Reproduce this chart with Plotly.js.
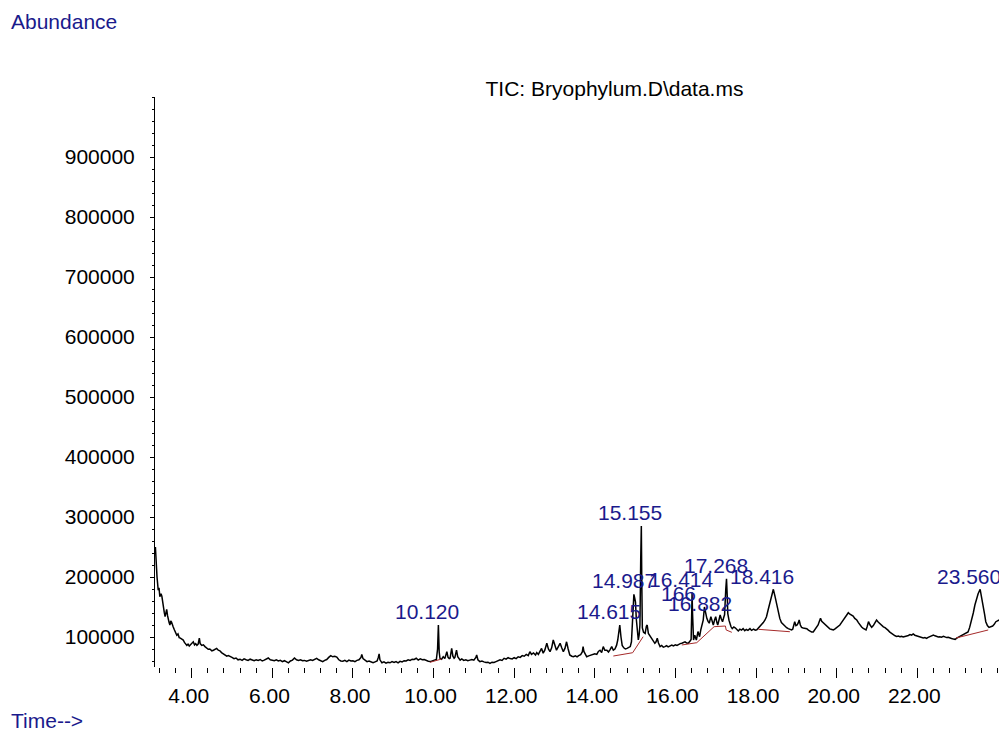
<!DOCTYPE html>
<html><head><meta charset="utf-8">
<script src="https://cdn.plot.ly/plotly-3.0.1.min.js"></script>
<style>html,body{margin:0;padding:0;background:#fff}#chart{width:999px;height:732px}</style>
</head><body><div id="chart"></div>
<script>
// TIC trace, [retention time (min), abundance]
const segDecay = [[3.10,250000],[3.12,215000],[3.14,200000],[3.17,178000],[3.19,182000],[3.21,167000],[3.24,172000],[3.26,168000],[3.28,156000],[3.30,150000],[3.32,141000],[3.34,134000],[3.36,140000],[3.38,146000],[3.40,136000],[3.42,128000],[3.44,124000],[3.46,120000],[3.48,127000],[3.50,125000],[3.52,119000],[3.54,117000],[3.57,112000],[3.60,108000],[3.63,103000],[3.66,105000],[3.69,99000],[3.72,98000],[3.75,96000],[3.79,95000],[3.82,91000],[3.85,89000],[3.88,86000],[3.91,88000],[3.94,85000],[3.97,87000],[4.00,89000],[4.04,92000],[4.07,87000],[4.10,89000],[4.13,86000],[4.16,88000],[4.19,98000],[4.21,89000],[4.25,86000],[4.29,87000],[4.33,84000],[4.37,82000],[4.41,79500],[4.45,80000],[4.50,77000],[4.54,78000],[4.58,80000],[4.62,81000],[4.66,78000],[4.70,77000],[4.74,74000],[4.78,72000],[4.82,70000],[4.87,68000],[4.91,69000],[4.95,67000]];
const segFlat = [[5.00,66000],[5.05,64000],[5.10,65000],[5.15,62000],[5.20,63000],[5.25,61000],[5.30,63500],[5.35,62000],[5.40,61000],[5.45,63000],[5.50,61500],[5.55,60500],[5.60,62000],[5.65,61000],[5.70,62500],[5.75,60000],[5.80,61500],[5.85,63000],[5.90,65000],[5.95,62000],[6.00,61500],[6.05,60500],[6.10,62000],[6.15,60000],[6.20,61000],[6.25,59000],[6.30,60500],[6.35,58000],[6.40,57000],[6.45,60000],[6.50,61500],[6.55,65000],[6.60,62000],[6.65,61000],[6.70,62000],[6.75,60500],[6.80,61000],[6.85,59500],[6.90,60500],[6.95,62000],[7.00,61000],[7.05,63000],[7.10,64500],[7.15,62000],[7.20,60000],[7.25,59000],[7.30,61000],[7.35,62500],[7.40,66000],[7.45,69000],[7.50,67000],[7.55,68000],[7.60,66500],[7.65,62000],[7.70,60000],[7.75,59500],[7.80,61000],[7.85,59000],[7.90,61500],[7.95,60000],[8.00,60500],[8.05,59000],[8.10,61000],[8.15,62000],[8.20,66000],[8.22,71000],[8.25,64000],[8.30,61000],[8.35,59000],[8.40,60000],[8.45,58000],[8.50,57000],[8.55,58500],[8.60,60000],[8.63,66000],[8.65,72000],[8.67,62000],[8.72,57000],[8.77,58500],[8.82,56500],[8.87,58000],[8.92,57000],[8.97,59000],[9.02,57500],[9.07,59000],[9.12,57000],[9.17,59500],[9.22,58500],[9.27,60500],[9.32,60000],[9.37,62000],[9.42,61000],[9.47,63000],[9.52,62500],[9.57,64500],[9.62,61500],[9.67,63500],[9.72,62000],[9.77,62500],[9.82,60500],[9.87,59500],[9.92,59000],[9.97,60500],[10.02,61500],[10.07,62500]];
const segMid = [[10.10,80000],[10.12,120000],[10.14,75000],[10.16,64500],[10.20,63000],[10.24,67000],[10.28,64000],[10.31,70000],[10.33,75500],[10.36,66000],[10.39,64000],[10.41,64500],[10.43,72000],[10.45,81000],[10.48,68000],[10.51,64500],[10.53,66000],[10.55,72000],[10.57,78000],[10.60,67000],[10.63,63000],[10.66,61500],[10.70,63500],[10.75,61000],[10.80,62000],[10.85,60500],[10.90,61500],[10.95,62500],[11.00,61500],[11.05,66000],[11.07,70000],[11.10,62000],[11.15,59000],[11.20,60000],[11.25,58500],[11.30,57500],[11.35,58000],[11.40,56000],[11.45,58000],[11.50,57500],[11.55,59000],[11.60,60500],[11.65,62000],[11.70,61000],[11.75,64500],[11.80,63000],[11.85,65500],[11.90,64000],[11.95,63500],[12.00,65500],[12.05,64000],[12.10,67000],[12.15,66000],[12.20,69000],[12.25,68000],[12.30,71000],[12.35,69000],[12.39,75500],[12.43,71000],[12.48,73500],[12.53,70000],[12.56,74000],[12.60,71000],[12.64,76000],[12.68,81000],[12.72,73000],[12.76,78000],[12.81,89500],[12.85,80000],[12.89,75500],[12.93,82000],[12.97,95000],[13.01,84000],[13.05,78000],[13.09,83000],[13.14,89500],[13.18,82000],[13.22,75500],[13.26,81000],[13.30,92000],[13.34,80000],[13.38,70000],[13.43,68000],[13.47,67000],[13.52,68500],[13.56,67000],[13.60,69000],[13.65,70500],[13.69,75000],[13.71,84000],[13.73,76000],[13.77,69000],[13.80,67000],[13.85,68500],[13.90,69500],[13.96,70000],[14.00,72000],[14.05,71000]];
const segPeaks = [[14.09,76000],[14.13,78000],[14.17,74000],[14.21,84000],[14.25,78000],[14.30,78000],[14.34,75000],[14.38,79000],[14.42,84000],[14.46,78000],[14.50,80000],[14.54,86000],[14.57,95000],[14.60,110000],[14.62,120000],[14.65,100000],[14.68,86000],[14.72,82000],[14.76,80000],[14.80,81000],[14.84,83000],[14.88,84000],[14.91,92000],[14.93,120000],[14.95,150000],[14.97,171000],[14.99,165000],[15.01,158000],[15.03,130000],[15.06,100000],[15.08,95000],[15.10,103000],[15.12,120000],[15.14,230000],[15.155,285000],[15.165,200000],[15.18,115000],[15.21,108000],[15.25,106000],[15.28,118000],[15.30,120000],[15.33,106000],[15.37,102000],[15.41,98000],[15.45,93000],[15.49,89500],[15.52,92000],[15.55,98000],[15.58,90000],[15.62,84000],[15.66,86000],[15.70,83000],[15.74,84000],[15.78,85500],[15.82,83500],[15.87,85000],[15.91,86500],[15.95,85000],[16.00,87000],[16.04,86000],[16.08,88000],[16.12,89000],[16.16,89500],[16.20,91000],[16.24,92000],[16.28,90000],[16.32,89500],[16.36,93000],[16.39,96000],[16.405,140000],[16.414,174000],[16.425,140000],[16.45,95000],[16.48,103000],[16.52,95000],[16.56,109000],[16.60,100500],[16.63,112000],[16.66,122000],[16.69,128000],[16.72,150000],[16.75,138000],[16.78,131000],[16.81,126000],[16.84,123000],[16.88,134000],[16.92,122000],[16.94,120000],[16.97,128000],[17.00,133800],[17.03,124000],[17.05,120000],[17.08,128000],[17.11,136700],[17.14,130000],[17.17,125500],[17.20,133000],[17.22,137000],[17.25,180000],[17.268,197000],[17.285,170000],[17.30,139000],[17.33,128000],[17.35,122000],[17.38,117000],[17.41,113900],[17.45,116700],[17.49,115000],[17.53,111000],[17.56,110000],[17.60,113000]];
const segLate = [[17.64,111500],[17.68,113900],[17.72,110500],[17.76,112500],[17.80,111000],[17.85,113900],[17.89,111000],[17.94,113000],[17.98,111500],[18.02,112000],[18.06,115000],[18.10,117000],[18.14,120000],[18.18,124000],[18.22,128000],[18.26,133800],[18.30,145000],[18.35,158800],[18.39,170000],[18.43,179500],[18.47,168000],[18.51,156000],[18.55,142000],[18.59,131000],[18.63,124000],[18.68,120000],[18.72,117000],[18.76,115500],[18.80,113900],[18.84,112500],[18.88,111700],[18.91,113000],[18.94,120000],[18.96,125500],[18.99,119000],[19.02,120000],[19.05,124000],[19.07,128300],[19.10,120000],[19.13,116000],[19.17,115000],[19.21,114500],[19.26,113900],[19.30,111500],[19.34,110000],[19.38,108300],[19.42,108300],[19.46,112000],[19.50,116000],[19.54,120000],[19.57,126000],[19.60,131000],[19.63,126000],[19.66,124000],[19.68,122800],[19.72,120000],[19.76,117000],[19.79,116000],[19.83,113500],[19.88,112500],[19.92,111700],[19.96,113500],[20.00,115500],[20.04,116700],[20.08,120000],[20.12,124000],[20.16,128300],[20.20,132000],[20.25,137000],[20.29,140500],[20.33,138000],[20.37,136700],[20.41,135000],[20.45,131000],[20.50,128300],[20.54,124000],[20.58,120000],[20.62,116700],[20.66,114500],[20.70,112500],[20.73,111700],[20.76,118000],[20.79,125500],[20.83,120000],[20.87,116000],[20.91,119000],[20.95,124000],[20.99,128300],[21.03,125000],[21.07,122000],[21.12,120000],[21.16,117000],[21.20,115500],[21.24,113900],[21.28,111000],[21.32,108000],[21.36,106000],[21.41,103300],[21.45,102000],[21.49,101000],[21.53,101500],[21.57,100500],[21.61,101000],[21.65,100000],[21.70,101500],[21.74,101700],[21.78,102500],[21.82,104000],[21.86,103000],[21.90,105000],[21.94,103000],[21.98,102000],[22.02,101500],[22.07,100500],[22.11,99500],[22.15,98500],[22.19,99000],[22.23,97800],[22.27,99500],[22.31,101000],[22.36,102000],[22.40,103300],[22.44,102000],[22.48,101000],[22.52,100000],[22.56,100500],[22.60,99500],[22.65,101000],[22.69,100000],[22.73,99000],[22.77,99400],[22.81,98000],[22.85,97500],[22.90,96500],[22.94,96100],[22.98,98000],[23.02,99500],[23.06,101000],[23.10,102000],[23.14,103300],[23.18,104500],[23.22,106000],[23.26,108300],[23.30,116000],[23.35,128300],[23.39,140000],[23.43,153300],[23.47,163000],[23.51,172000],[23.56,179500],[23.60,166000],[23.64,150500],[23.67,138000],[23.70,125500],[23.74,119000],[23.78,116000],[23.82,117000],[23.87,118300],[23.91,121000],[23.95,125500],[23.99,127000],[24.03,128300]];

// integration baselines (null = break)
const baseTime  = [9.91,10.20,null,14.46,14.94,15.20,null,16.16,16.53,16.96,17.24,17.26,17.40,null,18.06,18.84,null,22.96,23.76];
const baseAbund = [57800,63300,null,68300,73800,100500,null,86700,90500,117200,118300,111700,107800,null,112800,108800,null,98300,111700];

// peak labels
const peakText  = ["10.120","14.615","14.987","15.155","16.414","166","16.882","17.268","18.416","23.560"];
const peakTime  = [10.120,14.615,14.987,15.155,16.414,16.72,16.882,17.268,18.416,23.560];
const peakAbund = [120000,120000,171700,284500,174000,150500,134000,196000,178300,178300];

const xTicks = [4,6,8,10,12,14,16,18,20,22];
const yTicks = [100000,200000,300000,400000,500000,600000,700000,800000,900000];

const ticTime = [], ticAbund = [];
[segDecay, segFlat, segMid, segPeaks, segLate].forEach(s => s.forEach(p => { ticTime.push(p[0]); ticAbund.push(p[1]); }));

const FONT = 'Liberation Sans, Arial, Helvetica, sans-serif';
const FS = 21;
const NAVY = '#1a1a8c';

const traces = [
  {x: ticTime, y: ticAbund, type: 'scatter', mode: 'lines', line: {color: '#000', width: 1.5}, hoverinfo: 'skip'},
  {x: baseTime, y: baseAbund, type: 'scatter', mode: 'lines', connectgaps: false, line: {color: '#a52a2a', width: 1}, hoverinfo: 'skip'}
];

const annotations = peakText.map((t, i) => ({
  x: peakTime[i], y: peakAbund[i], xref: 'x', yref: 'y', text: t, showarrow: false,
  xanchor: 'left', yanchor: 'bottom', xshift: -45, yshift: 0,
  font: {family: FONT, size: FS, color: NAVY}
}));
annotations.push({xref: 'paper', yref: 'paper', x: -0.173, y: 1.133, xanchor: 'left', yanchor: 'middle', text: 'Abundance', showarrow: false, font: {family: FONT, size: FS, color: NAVY}});
annotations.push({xref: 'paper', yref: 'paper', x: -0.173, y: -0.094, xanchor: 'left', yanchor: 'middle', text: 'Time-->', showarrow: false, font: {family: FONT, size: FS, color: NAVY}});

const layout = {
  width: 999, height: 732,
  margin: {l: 155, r: 0, t: 97, b: 65, pad: 0},
  paper_bgcolor: '#fff', plot_bgcolor: '#fff',
  showlegend: false,
  font: {family: FONT, size: FS, color: '#000'},
  title: {text: 'TIC: Bryophylum.D\\data.ms', x: 0.6151, xref: 'container', xanchor: 'center', y: 0.8784, yref: 'container', yanchor: 'middle', font: {family: FONT, size: FS, color: '#000'}},
  xaxis: {range: [3.09, 24.028], showgrid: false, zeroline: false, showline: false,
    tickmode: 'array', tickvals: xTicks, ticktext: xTicks.map(v => v.toFixed(2) + '\u00a0'),
    ticks: 'outside', ticklen: 10, tickwidth: 1, tickcolor: '#000',
    minor: {dtick: 0.4, tick0: 0, ticks: 'outside', ticklen: 5, tickwidth: 1, tickcolor: '#000', showgrid: false},
    tickfont: {family: FONT, size: FS, color: '#000'}},
  yaxis: {range: [50000, 1000000], showgrid: false, zeroline: false, showline: true, linecolor: '#000', linewidth: 1,
    tickmode: 'array', tickvals: yTicks, ticktext: yTicks.map(v => String(v)),
    ticks: 'outside', ticklen: 4, tickwidth: 1, tickcolor: '#000',
    minor: {dtick: 20000, tick0: 0, ticks: 'outside', ticklen: 2, tickwidth: 1, tickcolor: '#000', showgrid: false},
    tickfont: {family: FONT, size: FS, color: '#000'}, ticklabelstandoff: 11},
  annotations: annotations
};

Plotly.newPlot('chart', traces, layout, {staticPlot: true, displayModeBar: false});
</script>
</body></html>
